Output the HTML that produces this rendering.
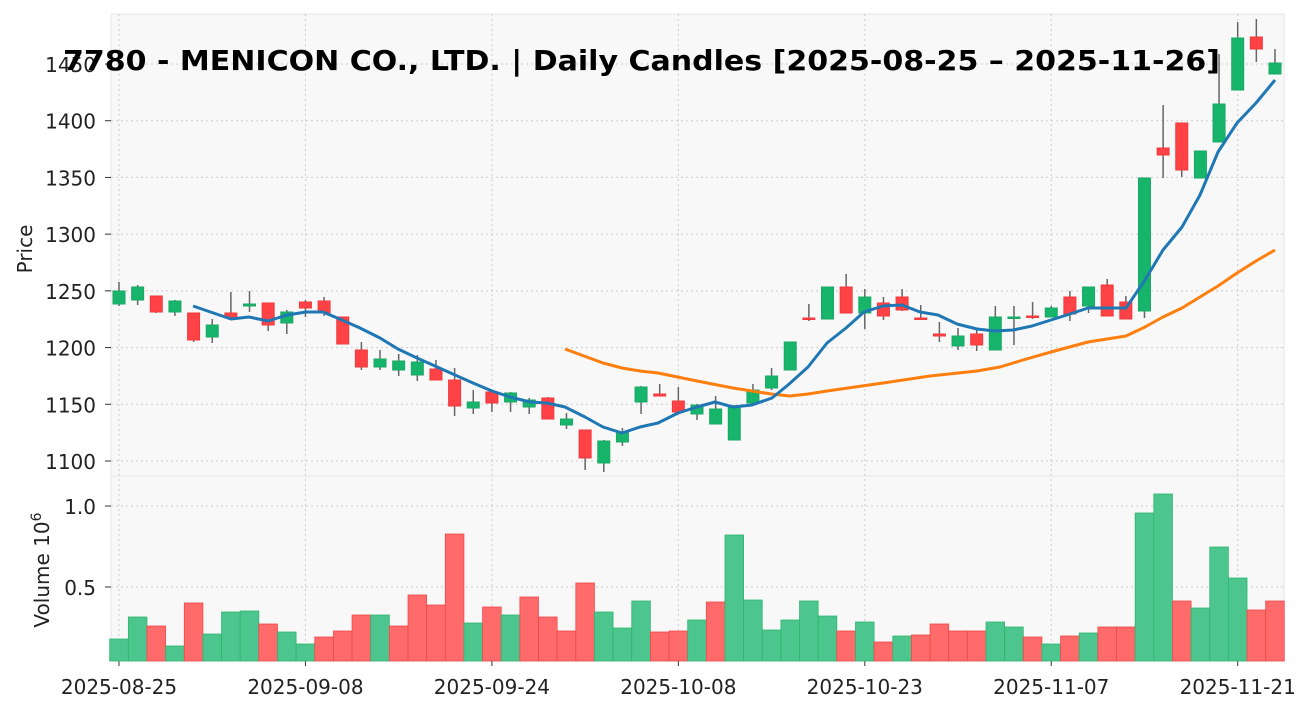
<!DOCTYPE html>
<html><head><meta charset="utf-8"><style>
body{margin:0;background:#fff;width:1312px;height:711px;overflow:hidden}
svg{display:block;font-family:"DejaVu Sans","Liberation Sans",sans-serif}
</style></head><body>
<svg id="s" width="1312" height="711" viewBox="0 0 1312 711" xmlns="http://www.w3.org/2000/svg"></svg>
<script>
const c=[["G",291,304,282,306],["G",287,300,285,305],["R",296,312,296,313],["G",301,312,300,316],["R",313,340,313,342],["G",325,337,319,343],["R",313,318,292,318],["G",304,306,291,312],["R",303,325,303,331],["G",312,323,310,334],["R",302,308,300,317],["R",301,313,297,316],["R",317,344,317,344],["R",350,367,342,370],["G",359,367,350,370],["G",361,370,354,376],["G",362,375,355,381],["R",369,380,360,380],["R",380,406,368,416],["G",402,408,390,414],["R",392,403,392,412],["G",393,402,392,412],["G",400,407,398,414],["R",398,419,397,419],["G",419,425,413,429],["R",430,458,430,470],["G",441,463,440,472],["G",433,442,428,446],["G",387,402,386,414],["R",394,396,384,396],["R",401,412,387,412],["G",405,414,404,420],["G",409,424,396,424],["G",407,440,405,440],["G",390,403,384,403],["G",376,388,368,390],["G",342,370,342,370],["R",318,319,304,321],["G",287,319,287,319],["R",287,313,274,313],["G",297,313,289,329],["R",303,316,297,320],["R",297,310,289,311],["R",318,319,305,319],["R",334,336,322,342],["G",336,346,328,350],["R",334,345,330,351],["G",317,350,306,350],["G",317,318,306,345],["R",316,317,302,319],["G",308,317,306,317],["R",297,314,291,321],["G",287,306,287,313],["R",285,316,279,316],["R",302,319,296,319],["G",178,311,178,318],["R",148,155,105,178],["R",123,170,123,177],["G",151,178,151,178],["G",104,142,54,142],["G",38,90,22,90],["R",37,49,19,62],["G",63,74,49,74]];
const v=[639,617,626,646,603,634,612,611,624,632,644,637,631,615,615,626,595,605,534,623,607,615,597,617,631,583,612,628,601,632,631,620,602,535,600,630,620,601,616,631,622,642,636,635,624,631,631,622,627,637,644,636,633,627,627,513,494,601,608,547,578,610,601];
const vc="GGRGRGGGRGGRRRGRRRRGRGRRRRGGGRRG"+"RGGGGGGRGRGRRRRGGRGRGRRGGRGGGRR";
const blue=[[193,306],[231,319],[249,317],[268,321],[287,315],[306,312],[323,312],[342,320],[360,328],[380,338],[398,349],[417,358],[435,366],[455,375],[473,383],[492,391],[510,397],[530,402],[547,403],[565,407],[585,417],[603,427],[622,433],[640,427],[658,423],[678,413],[697,407],[715,402],[733,407],[752,405],[772,398],[788,385],[808,367],[827,343],[846,328],[864,312],[883,306],[902,305],[920,312],[938,315],[957,324],[977,329],[995,331],[1013,330],[1032,326],[1051,320],[1070,314],[1088,308],[1126,308],[1145,280],[1163,250],[1182,227],[1200,195],[1218,152],[1237,123],[1256,103],[1275,80]];
const orng=[[565,349],[603,363],[622,368],[640,371],[658,373],[697,381],[733,388],[771,394],[790,396],[808,394],[827,391],[883,383],[930,376],[977,371],[1000,367],[1023,360],[1051,352],[1088,342],[1126,336],[1145,327],[1163,317],[1182,308],[1200,297],[1218,286],[1237,273],[1256,261],[1275,250]];
let h='';
h+='<rect x="111" y="14" width="1173" height="462" fill="#f8f8f8" stroke="#e6e6e6"/>';
h+='<rect x="111" y="476" width="1173" height="185" fill="#f8f8f8" stroke="#e6e6e6"/>';
const X=i=>119+18.645*i;
const FS=20;
const ticks=["2025-08-25","2025-09-08","2025-09-24","2025-10-08","2025-10-23","2025-11-07","2025-11-21"];
ticks.forEach((t,k)=>{const x=X(k*10);h+=`<line x1="${x}" y1="14" x2="${x}" y2="661" stroke="#ccc" stroke-dasharray="2,3"/><line x1="${x}" y1="661" x2="${x}" y2="666" stroke="#333"/><text x="${x}" y="694" font-size="${FS}" text-anchor="middle" fill="#222">${t}</text>`;});
[1100,1150,1200,1250,1300,1350,1400,1450].forEach(p=>{const y=461-(p-1100)*1.1343;h+=`<line x1="111" y1="${y}" x2="1284" y2="${y}" stroke="#ccc" stroke-dasharray="2,3"/><line x1="105" y1="${y}" x2="111" y2="${y}" stroke="#333"/><text x="96" y="${y+8}" font-size="${FS}" text-anchor="end" fill="#222">${p}</text>`;});
[[0.5,587],[1.0,506]].forEach(([t,y])=>{h+=`<line x1="111" y1="${y}" x2="1284" y2="${y}" stroke="#ccc" stroke-dasharray="2,3"/><line x1="105" y1="${y}" x2="111" y2="${y}" stroke="#333"/><text x="96" y="${y+8}" font-size="${FS}" text-anchor="end" fill="#222">${t.toFixed(1)}</text>`;});
v.forEach((y,i)=>{const g=vc[i]=="G";h+=`<rect x="${X(i)-9.3}" y="${y}" width="18.6" height="${661-y}" fill="${g?'#4cc68e':'#ff6b6b'}" stroke="${g?'#2fb56f':'#f04848'}" stroke-width="0.8"/>`;});
c.forEach((d,i)=>{const x=X(i),g=d[0]=="G";h+=`<line x1="${x}" y1="${d[3]}" x2="${x}" y2="${d[4]}" stroke="#666" stroke-width="1.5"/><rect x="${x-6}" y="${d[1]}" width="12" height="${Math.max(d[2]-d[1],1.5)}" fill="${g?'#16b56b':'#ff4245'}" stroke="${g?'#1aa866':'#f03a3d'}" stroke-width="1"/>`;});
h+=`<polyline points="${orng.map(p=>p.join(',')).join(' ')}" fill="none" stroke="#ff7f0e" stroke-width="3" stroke-linejoin="round"/>`;
h+=`<polyline points="${blue.map(p=>p.join(',')).join(' ')}" fill="none" stroke="#1f77b4" stroke-width="3" stroke-linejoin="round"/>`;
h+=`<text x="63" y="70" font-size="28" font-weight="bold" fill="#000" textLength="1157" lengthAdjust="spacingAndGlyphs">7780 - MENICON CO., LTD. | Daily Candles [2025-08-25 – 2025-11-26]</text>`;
h+=`<text transform="translate(32,249) rotate(-90)" font-size="${FS}" text-anchor="middle" fill="#222">Price</text>`;
h+=`<text transform="translate(49,570) rotate(-90)" font-size="${FS}" text-anchor="middle" fill="#222">Volume  10<tspan font-size="14" dy="-8">6</tspan></text>`;
document.getElementById('s').innerHTML=h;
</script>
</body></html>
